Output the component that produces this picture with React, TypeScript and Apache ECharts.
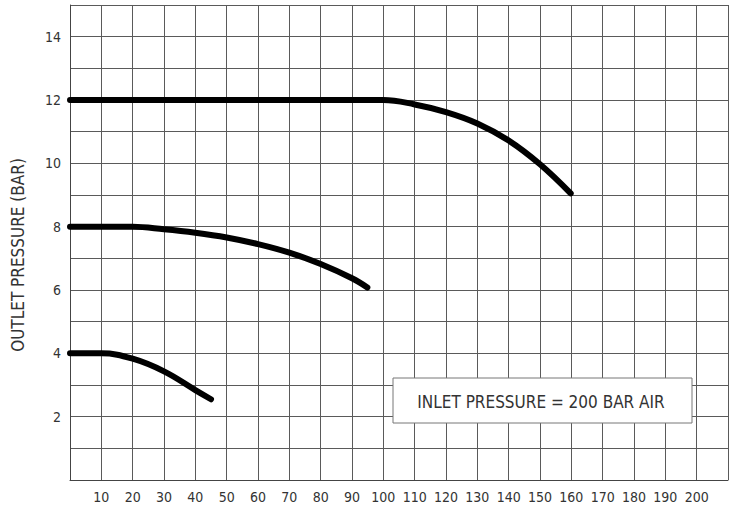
import React, { useEffect, useRef } from "react";
import * as echarts from "echarts";

const flowTicks = [10, 20, 30, 40, 50, 60, 70, 80, 90, 100, 110, 120, 130, 140, 150, 160, 170, 180, 190, 200];
const pressureTicks = [2, 4, 6, 8, 10, 12, 14];

const curve12: [number, number][] = [
  [0, 12], [50, 12], [100, 12], [110, 11.86], [120, 11.62], [130, 11.26],
  [140, 10.72], [150, 9.97], [159.8, 9.05],
];
const curve8: [number, number][] = [
  [0, 8], [20, 8], [30, 7.92], [40, 7.81], [50, 7.66], [60, 7.45], [70, 7.18],
  [80, 6.82], [90, 6.37], [94.9, 6.08],
];
const curve4: [number, number][] = [
  [0, 4], [10, 4], [20, 3.83], [30, 3.43], [40, 2.84], [45, 2.55],
];

const yAxisTitle = "OUTLET PRESSURE (BAR)";
const noteText = "INLET PRESSURE = 200 BAR AIR";

const FONT = "'DejaVu Sans Condensed', 'Liberation Sans Narrow', sans-serif";

export default function App() {
  const ref = useRef<HTMLDivElement>(null);
  useEffect(() => {
    if (!ref.current) return;
    const chart = echarts.init(ref.current, null, { renderer: "svg" });
    const lineStyle = { color: "#000", width: 6, cap: "round" as const, join: "round" as const };
    const mk = (data: [number, number][]) => ({
      type: "line",
      data,
      smooth: 0.4,
      showSymbol: false,
      symbol: "none",
      lineStyle,
      silent: true,
      z: 5,
    });
    chart.setOption({
      animation: false,
      backgroundColor: "#fff",
      grid: { left: 70, right: -7, top: 5, bottom: 33, containLabel: false },
      xAxis: {
        type: "value",
        min: 0,
        max: 210,
        interval: 10,
        axisLine: { show: true, lineStyle: { color: "#444", width: 1 } },
        axisTick: { show: false },
        splitLine: { show: true, lineStyle: { color: "#5a5a5a", width: 1 } },
        axisLabel: {
          margin: 10,
          color: "#333",
          fontFamily: FONT,
          fontSize: 14,
          formatter: (v: number) => (flowTicks.includes(v) ? String(v) : ""),
        },
      },
      yAxis: {
        type: "value",
        min: 0,
        max: 15,
        interval: 1,
        axisLine: { show: true, lineStyle: { color: "#444", width: 1 } },
        axisTick: { show: false },
        splitLine: { show: true, lineStyle: { color: "#5a5a5a", width: 1 } },
        axisLabel: {
          margin: 9,
          color: "#333",
          fontFamily: FONT,
          fontSize: 14,
          formatter: (v: number) => (pressureTicks.includes(v) ? String(v) : ""),
        },
      },
      series: [mk(curve12), mk(curve8), mk(curve4)],
      graphic: [
        {
          type: "text",
          x: 18,
          y: 255,
          rotation: Math.PI / 2,
          style: {
            text: yAxisTitle,
            fill: "#333",
            font: `17px ${FONT}`,
            align: "center",
            verticalAlign: "middle",
          },
        },
        {
          type: "rect",
          shape: { x: 393, y: 378, width: 299, height: 45 },
          style: { fill: "#fff", stroke: "#777", lineWidth: 1 },
          z: 10,
        },
        {
          type: "text",
          x: 541,
          y: 402,
          style: {
            text: noteText,
            fill: "#333",
            font: `17px ${FONT}`,
            align: "center",
            verticalAlign: "middle",
          },
          z: 11,
        },
      ],
    });
    return () => chart.dispose();
  }, []);
  return (
    <div
      ref={ref}
      style={{ position: "absolute", left: 0, top: 0, width: 731, height: 513 }}
    />
  );
}
